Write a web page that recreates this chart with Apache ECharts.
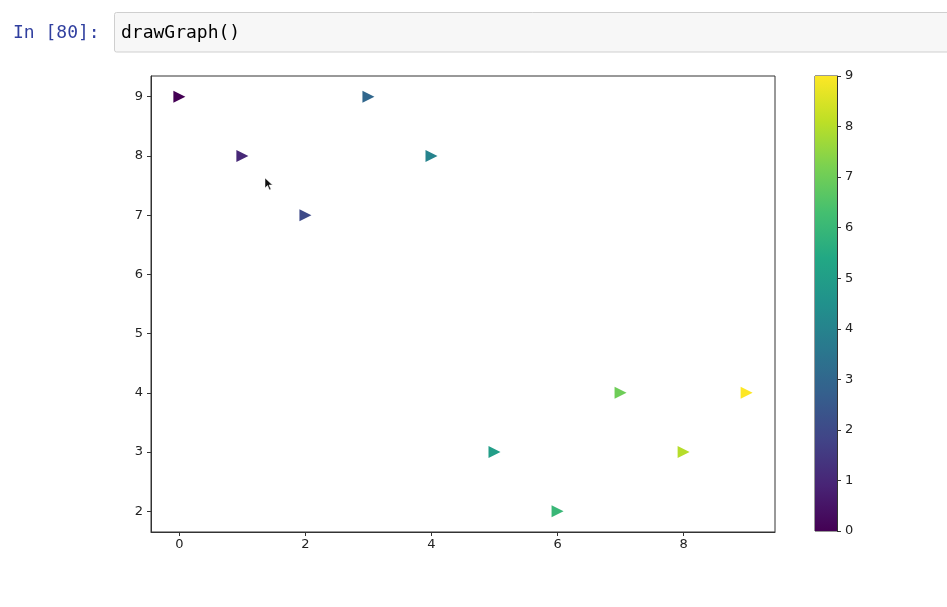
<!DOCTYPE html>
<html>
<head>
<meta charset="utf-8">
<script src="https://cdn.jsdelivr.net/npm/echarts@6/dist/echarts.min.js"></script>
<style>
html,body{margin:0;padding:0;background:#fff;}
#chart{width:947px;height:607px;}
</style>
</head>
<body>
<div id="chart"></div>
<script>
// ---- data ----
const xValues = [0, 1, 2, 3, 4, 5, 6, 7, 8, 9];
const yValues = [9, 8, 7, 9, 8, 3, 2, 4, 3, 4];
const colorValues = [0, 1, 2, 3, 4, 5, 6, 7, 8, 9];
const xTicks = [0, 2, 4, 6, 8];
const yTicks = [2, 3, 4, 5, 6, 7, 8, 9];
const colorbarRange = [0, 9];
const promptText = 'In [80]:';
const codeText = 'drawGraph()';

const viridis = ['#440154','#482475','#414487','#355f8d','#2a788e','#21918c',
                 '#22a884','#44bf70','#7ad151','#bddf26','#fde725'];

const points = xValues.map((x, i) => [x, yValues[i], colorValues[i]]);

const chart = echarts.init(document.getElementById('chart'), null, {renderer: 'canvas'});
const tickFont = {fontFamily: 'DejaVu Sans', fontSize: 13, color: '#222'};

const cbGradient = new echarts.graphic.LinearGradient(0, 1, 0, 0,
  viridis.map((c, i) => ({offset: i / (viridis.length - 1), color: c})));

chart.setOption({
  backgroundColor: '#fff',
  animation: false,
  graphic: [
    {type: 'rect', shape: {x: 114.5, y: 12.5, width: 840, height: 39.5, r: 2},
     style: {fill: '#f7f7f7', stroke: '#cfcfcf', lineWidth: 1}},
    {type: 'text', x: 13, y: 33, style: {text: promptText, fill: '#303f9f',
      font: '18px "DejaVu Sans Mono"', verticalAlign: 'middle'}},
    {type: 'text', x: 121, y: 33, style: {text: codeText, fill: '#000',
      font: '18px "DejaVu Sans Mono"', verticalAlign: 'middle'}},
    {type: 'polygon', shape: {points: [[265,178],[265,188],[267.5,185.5],[269.5,190],[271,189.3],[269,185],[272.5,185]]},
      style: {fill: '#111', stroke: '#fff', lineWidth: 0.5}}
  ],
  grid: [
    {left: 151, top: 76, width: 624, height: 456, show: true, borderColor: '#333', borderWidth: 1, backgroundColor: 'transparent'},
    {left: 815, top: 76, width: 22, height: 455, show: true, borderColor: '#333', borderWidth: 1, backgroundColor: 'transparent'}
  ],
  xAxis: [
    {type: 'value', gridIndex: 0, min: -0.45, max: 9.45,
     splitLine: {show: false},
     axisLine: {show: true, onZero: false, lineStyle: {color: '#333'}},
     axisTick: {show: true, inside: false, length: 4, lineStyle: {color: '#333'}, customValues: xTicks},
     axisLabel: Object.assign({margin: 6, customValues: xTicks}, tickFont)},
    {type: 'category', gridIndex: 1, data: ['cb'], show: false, boundaryGap: true}
  ],
  yAxis: [
    {type: 'value', gridIndex: 0, min: 1.65, max: 9.35,
     splitLine: {show: false},
     axisLine: {show: true, onZero: false, lineStyle: {color: '#333'}},
     axisTick: {show: true, inside: false, length: 4, lineStyle: {color: '#333'}, customValues: yTicks},
     axisLabel: Object.assign({margin: 8, customValues: yTicks}, tickFont)},
    {type: 'value', gridIndex: 1, position: 'right', min: colorbarRange[0], max: colorbarRange[1], interval: 1,
     splitLine: {show: false},
     axisLine: {show: true, lineStyle: {color: '#333'}},
     axisTick: {show: true, inside: false, length: 4, lineStyle: {color: '#333'}},
     axisLabel: Object.assign({margin: 8}, tickFont)}
  ],
  visualMap: {
    type: 'continuous', show: false, min: colorbarRange[0], max: colorbarRange[1], dimension: 2, seriesIndex: 0,
    inRange: {color: viridis}
  },
  series: [{
    type: 'scatter', xAxisIndex: 0, yAxisIndex: 0,
    data: points, symbol: 'triangle', symbolRotate: -90, symbolSize: 12,
    itemStyle: {opacity: 1}
  }, {
    type: 'bar', xAxisIndex: 1, yAxisIndex: 1, barWidth: '100%', silent: true,
    data: [colorbarRange[1]], itemStyle: {color: cbGradient}
  }]
});
</script>
</body>
</html>
